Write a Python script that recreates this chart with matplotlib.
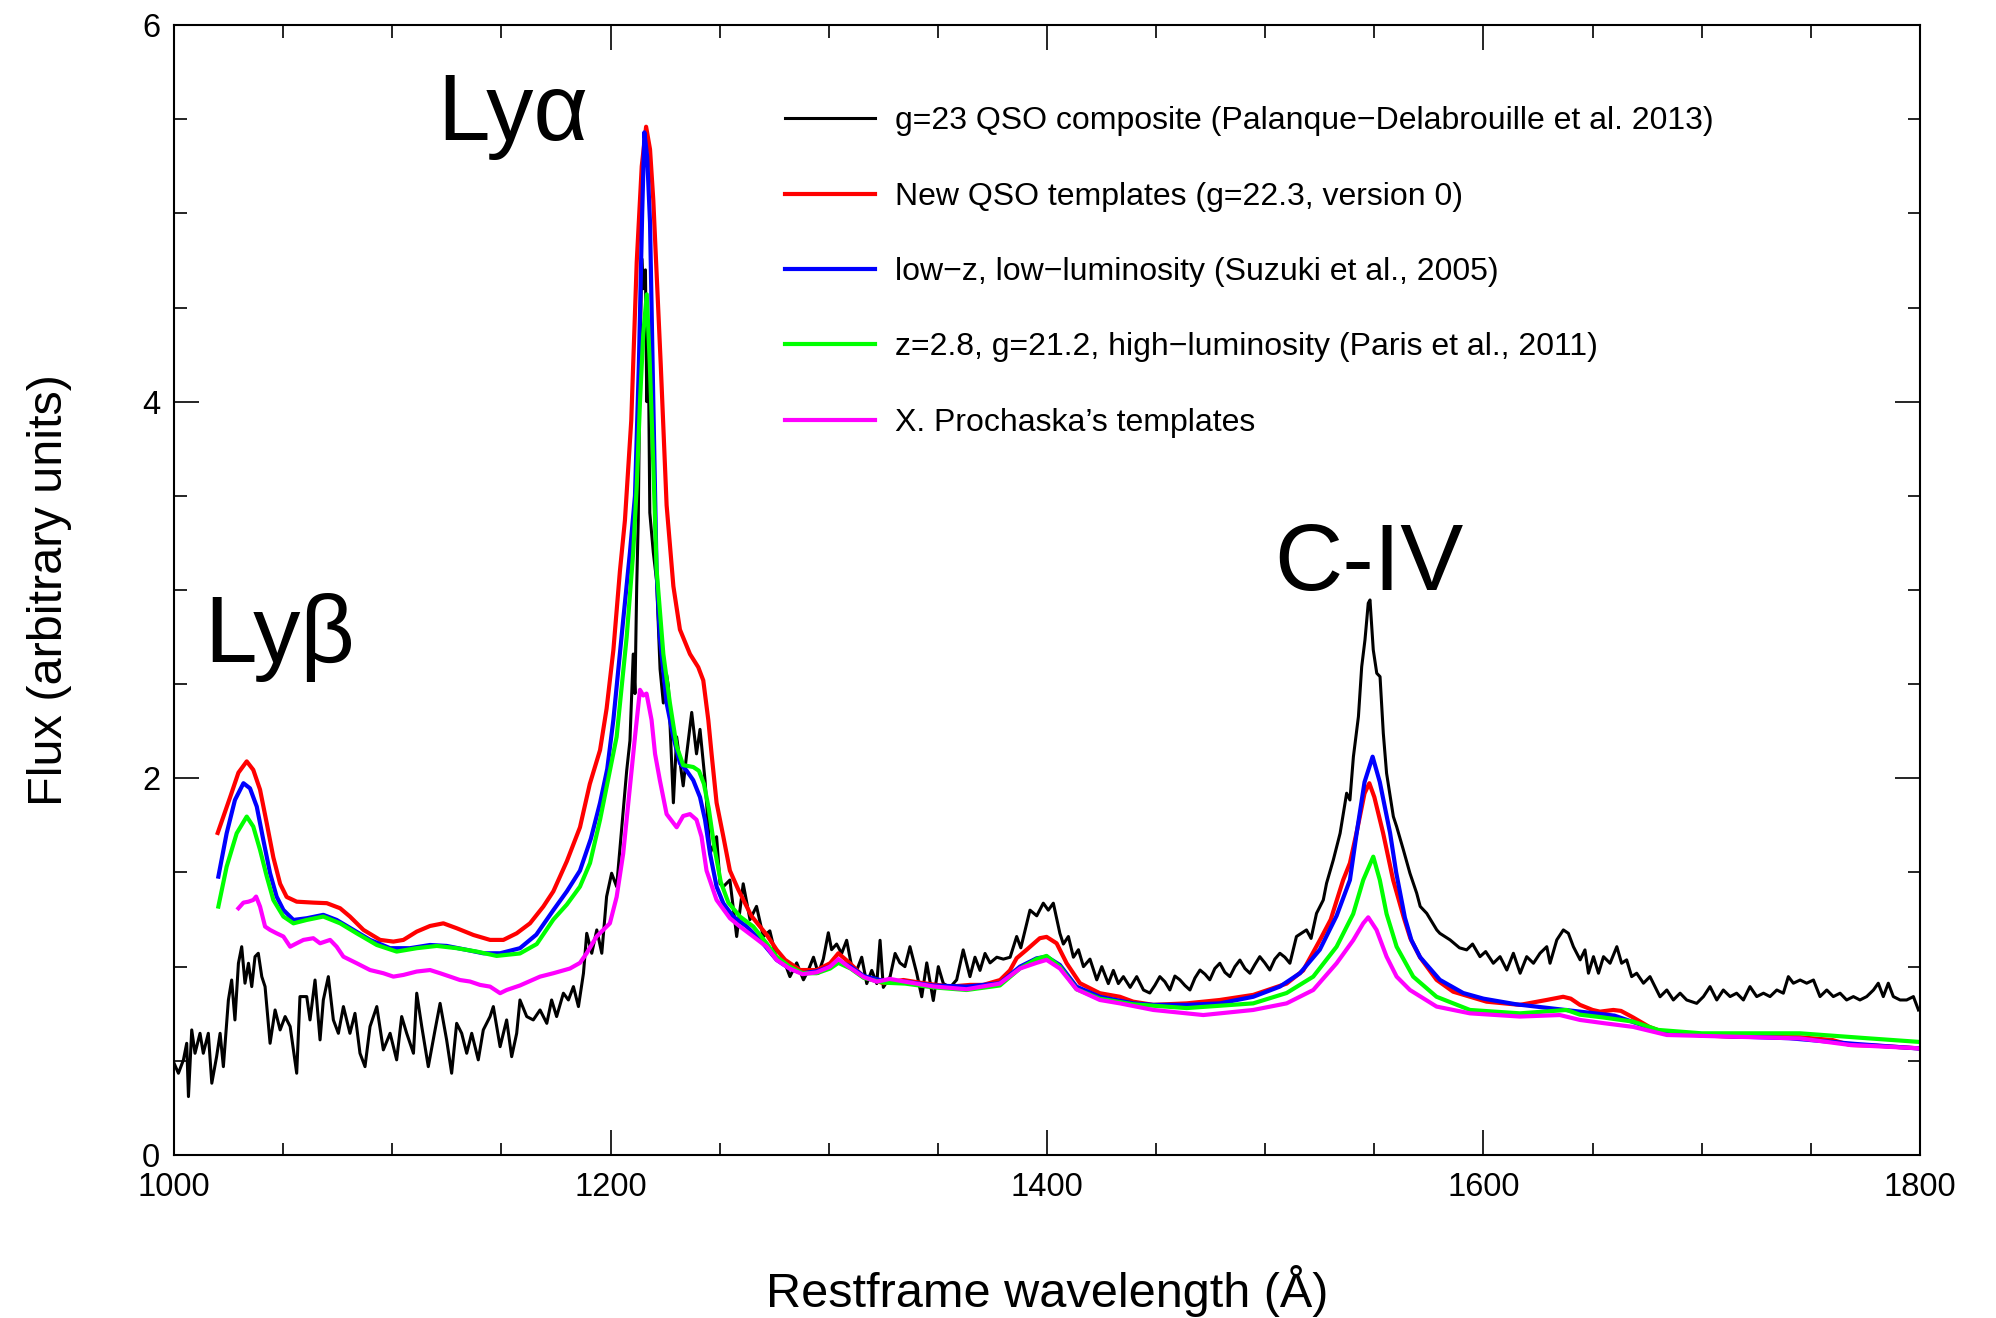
import matplotlib
matplotlib.use('Agg')
import matplotlib.pyplot as plt
from matplotlib.ticker import MultipleLocator

plt.rcParams['font.family'] = ['Liberation Sans', 'DejaVu Sans']

# --- data (restframe wavelength in A, flux) ---
black_wl = [1000.0, 1002.0, 1004.3, 1005.8, 1006.6, 1008.1, 1009.6, 1011.9, 1013.4, 1015.7,
            1017.3, 1019.5, 1021.1, 1022.6, 1024.9, 1026.4, 1027.9, 1029.5, 1031.0, 1032.5,
            1034.1, 1035.6, 1037.1, 1038.6, 1040.2, 1041.7, 1044.0, 1046.3, 1048.6, 1050.9,
            1053.2, 1056.2, 1057.7, 1060.8, 1062.3, 1064.6, 1066.9, 1068.4, 1070.7, 1073.0,
            1075.3, 1077.6, 1080.6, 1082.9, 1085.2, 1087.5, 1089.8, 1092.9, 1095.9, 1099.0,
            1102.0, 1104.3, 1106.6, 1109.7, 1111.2, 1113.5, 1116.5, 1119.6, 1121.9, 1124.9,
            1127.2, 1129.5, 1131.8, 1134.1, 1136.4, 1139.4, 1141.7, 1144.8, 1146.3, 1149.4,
            1152.4, 1154.7, 1157.0, 1158.5, 1161.6, 1164.6, 1167.7, 1170.8, 1173.0, 1175.3,
            1178.4, 1180.7, 1183.0, 1185.3, 1187.6, 1189.1, 1191.4, 1193.7, 1196.0, 1198.2,
            1200.5, 1202.8, 1204.4, 1205.9, 1207.4, 1208.9, 1210.4, 1211.2, 1212.0, 1212.7,
            1213.5, 1214.3, 1215.1, 1216.0, 1216.6, 1217.3, 1218.0, 1219.6, 1221.1, 1222.7,
            1224.2, 1225.7, 1226.5, 1228.8, 1230.3, 1233.3, 1234.9, 1237.2, 1239.4, 1241.0,
            1243.3, 1245.6, 1248.6, 1250.2, 1251.7, 1254.7, 1257.8, 1260.8, 1263.9, 1266.9,
            1270.0, 1273.0, 1276.1, 1279.2, 1282.2, 1285.3, 1288.4, 1290.6, 1293.0, 1295.2,
            1297.5, 1299.8, 1301.3, 1303.6, 1305.9, 1308.2, 1310.5, 1312.8, 1315.1, 1317.4,
            1319.7, 1322.0, 1323.5, 1325.0, 1328.1, 1330.4, 1332.6, 1334.9, 1337.2, 1340.3,
            1342.6, 1344.9, 1347.9, 1350.2, 1352.5, 1355.6, 1358.6, 1361.6, 1364.7, 1367.0,
            1369.3, 1371.6, 1373.9, 1377.0, 1380.0, 1383.1, 1386.1, 1388.0, 1390.7, 1392.2,
            1395.3, 1398.3, 1400.6, 1402.9, 1405.9, 1407.5, 1409.8, 1412.1, 1414.4, 1416.7,
            1419.7, 1422.8, 1425.1, 1428.1, 1430.4, 1432.7, 1435.0, 1438.1, 1441.1, 1444.2,
            1447.1, 1449.4, 1451.7, 1454.0, 1456.3, 1458.6, 1460.9, 1463.2, 1465.5, 1467.8,
            1470.1, 1472.4, 1474.6, 1476.9, 1479.2, 1481.5, 1483.8, 1486.1, 1488.4, 1490.7,
            1493.0, 1495.2, 1497.5, 1499.8, 1502.1, 1504.4, 1506.7, 1509.0, 1511.3, 1512.8,
            1514.3, 1518.9, 1521.0, 1523.5, 1526.6,
            1528.1, 1531.2, 1534.3, 1537.3, 1538.8, 1540.4, 1542.7, 1544.2, 1545.7, 1547.2,
            1548.0, 1549.5, 1551.1, 1552.6, 1554.1, 1555.6, 1558.7, 1560.2, 1563.3, 1566.3,
            1569.4, 1571.0, 1574.0, 1578.6, 1580.0, 1584.7, 1589.0, 1592.3, 1595.0, 1598.4,
            1601.0, 1604.5, 1607.6, 1610.7, 1613.7, 1616.8, 1619.8, 1622.9, 1625.9, 1629.0,
            1630.5, 1633.6, 1636.6, 1638.9, 1641.2, 1644.3, 1646.5, 1648.1, 1650.4, 1652.7,
            1655.0, 1658.0, 1661.1, 1663.3, 1665.6, 1667.9, 1670.2, 1673.3, 1676.3, 1678.6,
            1680.9, 1684.0, 1687.0, 1690.1, 1693.1, 1697.7, 1700.8, 1703.8, 1706.9, 1709.9,
            1713.0, 1716.0, 1719.1, 1722.1, 1725.2, 1728.3, 1731.3, 1734.4, 1737.4, 1739.7,
            1742.0, 1745.1, 1748.1, 1751.2, 1754.2, 1757.3, 1760.3, 1763.4, 1766.4, 1769.5,
            1772.5, 1775.6, 1778.7, 1780.9, 1783.2, 1785.5, 1787.8, 1790.9, 1793.9, 1797.0,
            1799.3]
black_flux = [0.487, 0.434, 0.505, 0.593, 0.310, 0.664, 0.540, 0.646, 0.540, 0.646,
              0.381, 0.522, 0.646, 0.469, 0.823, 0.929, 0.717, 1.018, 1.106, 0.912,
              1.018, 0.894, 1.053, 1.071, 0.947, 0.894, 0.593, 0.770, 0.664, 0.735,
              0.682, 0.434, 0.841, 0.841, 0.717, 0.929, 0.611, 0.823, 0.947, 0.717,
              0.646, 0.788, 0.646, 0.752, 0.540, 0.469, 0.682, 0.788, 0.558, 0.646,
              0.505, 0.735, 0.646, 0.540, 0.859, 0.682, 0.469, 0.664, 0.805, 0.611,
              0.434, 0.699, 0.646, 0.540, 0.646, 0.505, 0.664, 0.735, 0.788, 0.575,
              0.717, 0.522, 0.646, 0.823, 0.735, 0.717, 0.770, 0.699, 0.823, 0.735,
              0.859, 0.823, 0.894, 0.788, 0.965, 1.177, 1.071, 1.195, 1.071, 1.372,
              1.496, 1.425, 1.637, 1.832, 2.04, 2.20, 2.66, 2.45, 3.02, 3.37,
              4.20, 4.76, 4.60, 4.70, 4.00, 4.30, 3.41, 3.20, 3.05, 2.58,
              2.40, 2.55, 2.49, 1.87, 2.22, 1.96, 2.13, 2.35, 2.13, 2.26,
              1.99, 1.60, 1.69, 1.44, 1.425, 1.46, 1.16, 1.44, 1.25, 1.32,
              1.16, 1.19, 1.04, 1.04, 0.947, 1.02, 0.93, 0.98, 1.05, 0.965,
              1.04, 1.18, 1.09, 1.12, 1.07, 1.14, 1.00, 0.98, 1.05, 0.91,
              0.98, 0.91, 1.14, 0.89, 0.947, 1.07, 1.02, 1.00, 1.106, 0.965,
              0.84, 1.02, 0.82, 1.00, 0.91, 0.89, 0.93, 1.089, 0.947, 1.05,
              0.98, 1.07, 1.02, 1.05, 1.04, 1.05, 1.16, 1.10, 1.23, 1.30,
              1.27, 1.337, 1.30, 1.337, 1.177, 1.12, 1.16, 1.05, 1.09, 1.00,
              1.04, 0.93, 1.00, 0.91, 0.98, 0.91, 0.947, 0.89, 0.947, 0.876,
              0.86, 0.90, 0.947, 0.92, 0.876, 0.95, 0.93, 0.90, 0.876, 0.94,
              0.982, 0.96, 0.93, 0.99, 1.018, 0.97, 0.947, 1.00, 1.035, 0.99,
              0.965, 1.01, 1.053, 1.02, 0.982, 1.04, 1.071, 1.05, 1.018, 1.09,
              1.16, 1.195, 1.15, 1.283, 1.354,
              1.443, 1.567, 1.708, 1.921, 1.885, 2.115, 2.328, 2.593, 2.735, 2.93,
              2.947, 2.682, 2.558, 2.54, 2.239, 2.027, 1.797, 1.744, 1.62, 1.496,
              1.39, 1.32, 1.283, 1.195, 1.177, 1.142, 1.10, 1.089, 1.12, 1.053,
              1.08, 1.018, 1.053, 0.982, 1.071, 0.965, 1.053, 1.018, 1.071, 1.106,
              1.018, 1.142, 1.195, 1.177, 1.106, 1.036, 1.089, 0.965, 1.053, 0.965,
              1.053, 1.018, 1.106, 1.018, 1.036, 0.947, 0.965, 0.912, 0.947, 0.894,
              0.840, 0.876, 0.823, 0.859, 0.823, 0.805, 0.841, 0.894, 0.823, 0.876,
              0.841, 0.859, 0.823, 0.894, 0.841, 0.859, 0.841, 0.876, 0.859, 0.947,
              0.912, 0.929, 0.912, 0.929, 0.841, 0.876, 0.841, 0.859, 0.823, 0.841,
              0.823, 0.841, 0.876, 0.912, 0.841, 0.912, 0.841, 0.823, 0.823, 0.841,
              0.770]

red_wl = [1020.0, 1025.7, 1029.5, 1033.3, 1036.3, 1039.4, 1042.5, 1045.5, 1048.6, 1051.6,
          1056.2, 1063.8, 1070.0, 1076.1, 1080.6, 1086.8, 1094.4, 1100.5, 1105.1, 1111.2,
          1117.3, 1123.4, 1129.5, 1137.2, 1144.8, 1150.9, 1157.0, 1163.1, 1169.2, 1173.8,
          1180.0, 1186.0, 1190.5, 1195.2, 1198.2, 1201.3, 1204.3, 1206.6, 1209.5, 1212.0,
          1214.3, 1216.3, 1218.1, 1219.6, 1221.2, 1223.0, 1225.7, 1228.8, 1231.8, 1236.4,
          1240.2, 1242.5, 1244.8, 1246.3, 1248.6, 1251.7, 1254.7, 1258.5, 1264.5, 1271.5,
          1276.1, 1280.0, 1286.8, 1294.5, 1300.6, 1304.4, 1309.7, 1315.9, 1325.0, 1334.2,
          1343.3, 1355.6, 1364.7, 1370.8, 1378.5, 1383.0, 1386.1, 1390.6, 1396.7, 1399.8,
          1404.4, 1409.0, 1415.1, 1424.2, 1433.4, 1439.5, 1448.7, 1454.8, 1464.0, 1479.2,
          1494.5, 1509.8, 1517.4, 1525.0, 1530.0, 1535.7, 1538.8, 1542.0, 1545.5, 1547.7,
          1550.0, 1554.0, 1558.6, 1563.5, 1566.5, 1570.9, 1578.5, 1586.1, 1601.4, 1616.7,
          1628.9, 1636.5, 1640.0, 1644.2, 1650.0, 1653.4, 1659.5, 1663.0, 1668.6, 1676.0,
          1684.0, 1700.0, 1714.5, 1745.0, 1760.0, 1768.0, 1780.0, 1798.5, 1800.0]
red_flux = [1.71, 1.90, 2.03, 2.09, 2.045, 1.94, 1.76, 1.58, 1.44, 1.37,
            1.345, 1.34, 1.337, 1.31, 1.266, 1.195, 1.142, 1.133, 1.142, 1.186,
            1.216, 1.23, 1.204, 1.168, 1.142, 1.142, 1.177, 1.23, 1.319, 1.40,
            1.56, 1.74, 1.97, 2.15, 2.37, 2.68, 3.10, 3.37, 3.90, 4.74,
            5.25, 5.46, 5.34, 5.07, 4.66, 4.20, 3.45, 3.02, 2.79, 2.66,
            2.59, 2.52, 2.31, 2.13, 1.87, 1.69, 1.51, 1.41, 1.27, 1.17,
            1.09, 1.036, 0.982, 0.982, 1.018, 1.071, 1.018, 0.947, 0.912, 0.929,
            0.912, 0.894, 0.903, 0.903, 0.929, 0.98, 1.045, 1.089, 1.151, 1.158,
            1.124, 1.018, 0.912, 0.859, 0.84, 0.814, 0.797, 0.80, 0.805, 0.823,
            0.85, 0.91, 0.98, 1.14, 1.25, 1.46, 1.55, 1.72, 1.92, 1.974,
            1.90, 1.71, 1.46, 1.26, 1.15, 1.05, 0.93, 0.867, 0.814, 0.797,
            0.823, 0.84, 0.83, 0.797, 0.77, 0.761, 0.77, 0.765, 0.73, 0.68,
            0.646, 0.635, 0.628, 0.625, 0.61, 0.584, 0.58, 0.567, 0.565]

blue_wl = [1020.3, 1024.1, 1027.9, 1031.8, 1034.8, 1037.9, 1040.9, 1044.0, 1047.0, 1050.1,
           1054.7, 1060.8, 1068.4, 1074.5, 1082.2, 1089.8, 1099.0, 1108.1, 1117.3, 1124.9,
           1134.1, 1141.7, 1149.4, 1158.5, 1166.0, 1173.8, 1180.0, 1186.0, 1191.0, 1195.2,
           1198.5, 1201.3, 1205.8, 1208.9, 1211.2, 1213.0, 1214.5, 1215.5, 1216.8, 1218.1,
           1219.6, 1221.1, 1222.6, 1225.7, 1228.8, 1231.8, 1234.9, 1237.9, 1241.0, 1243.3,
           1245.6, 1248.6, 1251.7, 1256.2, 1262.4, 1268.5, 1276.1, 1282.0, 1288.0, 1294.5,
           1300.6, 1304.4, 1310.0, 1316.0, 1325.0, 1335.0, 1347.9, 1363.1, 1378.4, 1387.6,
           1395.2, 1399.8, 1405.9, 1413.5, 1424.2, 1439.5, 1448.7, 1464.0, 1479.2, 1494.5,
           1506.7, 1515.9, 1525.0, 1532.7, 1538.8, 1541.9, 1545.5, 1549.2, 1552.5, 1557.2,
           1560.0, 1564.0, 1567.0, 1571.0, 1580.0, 1590.7, 1600.0, 1615.0, 1630.0, 1645.0,
           1660.0, 1680.0, 1700.0, 1740.0, 1770.0, 1800.0]
blue_flux = [1.478, 1.708, 1.885, 1.974, 1.947, 1.85, 1.673, 1.496, 1.372, 1.301,
             1.248, 1.257, 1.275, 1.248, 1.195, 1.142, 1.098, 1.098, 1.115, 1.11,
             1.089, 1.071, 1.071, 1.098, 1.17, 1.30, 1.40, 1.51, 1.68, 1.87,
             2.05, 2.31, 2.84, 3.20, 3.50, 4.20, 5.00, 5.43, 5.30, 4.95,
             4.00, 3.10, 2.75, 2.40, 2.22, 2.08, 2.04, 1.99, 1.90, 1.78,
             1.60, 1.425, 1.336, 1.266, 1.213, 1.142, 1.036, 0.99, 0.965, 0.975,
             1.00, 1.03, 1.00, 0.95, 0.925, 0.92, 0.90, 0.894, 0.912, 1.00,
             1.044, 1.053, 1.009, 0.894, 0.84, 0.805, 0.797, 0.797, 0.805, 0.84,
             0.894, 0.965, 1.09, 1.27, 1.46, 1.71, 1.98, 2.115, 1.98, 1.71,
             1.50, 1.26, 1.14, 1.05, 0.93, 0.86, 0.83, 0.80, 0.78, 0.76,
             0.74, 0.66, 0.635, 0.62, 0.59, 0.565]

green_wl = [1020.3, 1024.1, 1028.7, 1033.3, 1036.3, 1039.4, 1042.5, 1045.5, 1050.1, 1054.7,
            1060.8, 1068.4, 1076.1, 1083.7, 1092.9, 1102.0, 1111.2, 1120.4, 1129.5, 1138.7,
            1147.8, 1158.5, 1166.2, 1173.8, 1180.0, 1186.0, 1190.6, 1195.2, 1199.0, 1202.8,
            1207.4, 1210.4, 1212.0, 1213.5, 1215.0, 1216.6, 1218.0, 1219.5, 1221.1, 1224.2,
            1227.2, 1230.3, 1233.3, 1237.9, 1240.5, 1242.8, 1245.0, 1247.5, 1250.5, 1254.0,
            1259.3, 1265.4, 1271.5, 1276.1, 1282.0, 1288.0, 1294.5, 1300.6, 1304.4, 1310.0,
            1316.0, 1325.0, 1335.0, 1347.9, 1363.1, 1378.4, 1387.6, 1395.2, 1399.8, 1405.9,
            1413.5, 1424.2, 1439.5, 1464.0, 1494.5, 1509.8, 1522.0, 1532.7, 1540.3, 1544.9,
            1549.5, 1552.5, 1555.6, 1560.2, 1567.8, 1578.5, 1593.8, 1616.7, 1638.1, 1644.2,
            1655.0, 1668.6, 1680.0, 1700.0, 1745.0, 1775.6, 1800.0]
green_flux = [1.319, 1.531, 1.708, 1.797, 1.744, 1.62, 1.478, 1.354, 1.266, 1.23,
              1.248, 1.266, 1.23, 1.177, 1.115, 1.08, 1.098, 1.11, 1.098, 1.08,
              1.057, 1.07, 1.12, 1.25, 1.33, 1.425, 1.55, 1.78, 2.00, 2.22,
              2.75, 3.20, 3.55, 4.00, 4.36, 4.57, 4.20, 3.70, 3.11, 2.66,
              2.40, 2.17, 2.07, 2.06, 2.04, 1.97, 1.84, 1.64, 1.45, 1.34,
              1.266, 1.213, 1.124, 1.053, 1.00, 0.965, 0.965, 0.99, 1.02, 0.99,
              0.94, 0.915, 0.91, 0.89, 0.876, 0.90, 0.99, 1.04, 1.057, 1.00,
              0.88, 0.83, 0.80, 0.78, 0.805, 0.86, 0.947, 1.106, 1.28, 1.46,
              1.584, 1.46, 1.28, 1.106, 0.947, 0.84, 0.77, 0.752, 0.77, 0.745,
              0.73, 0.708, 0.664, 0.646, 0.646, 0.62, 0.60]

magenta_wl = [1029.5, 1031.8, 1034.1, 1036.3, 1037.6, 1039.4, 1041.7, 1044.0, 1047.0, 1050.1,
              1053.2, 1056.2, 1059.3, 1063.8, 1066.9, 1071.5, 1074.5, 1077.6, 1083.7, 1089.8,
              1095.9, 1100.5, 1105.1, 1111.2, 1117.3, 1121.9, 1126.5, 1131.0, 1135.6, 1140.2,
              1144.8, 1149.4, 1152.4, 1158.5, 1167.7, 1173.8, 1181.4, 1186.0, 1189.0, 1193.6,
              1199.7, 1202.8, 1205.8, 1208.9, 1211.2, 1213.5, 1215.0, 1216.5, 1218.8, 1220.4,
              1222.6, 1225.7, 1230.3, 1233.3, 1236.4, 1239.4, 1241.7, 1244.0, 1248.6, 1254.7,
              1259.3, 1265.4, 1271.5, 1276.1, 1282.0, 1288.0, 1294.5, 1300.6, 1304.4, 1309.0,
              1316.0, 1322.0, 1328.0, 1335.0, 1347.9, 1363.1, 1378.4, 1387.6, 1395.2, 1399.8,
              1405.9, 1413.5, 1424.2, 1433.4, 1448.7, 1471.6, 1494.5, 1509.8, 1522.0, 1532.7,
              1540.3, 1544.9, 1547.2, 1551.0, 1555.6, 1560.2, 1566.3, 1578.5, 1593.8, 1616.7,
              1635.0, 1644.2, 1655.0, 1668.6, 1684.0, 1714.5, 1745.0, 1768.0, 1798.5, 1800.0]
magenta_flux = [1.31, 1.34, 1.345, 1.354, 1.372, 1.319, 1.213, 1.195, 1.177, 1.16,
                1.106, 1.124, 1.142, 1.151, 1.124, 1.142, 1.106, 1.053, 1.018, 0.982,
                0.965, 0.947, 0.956, 0.974, 0.982, 0.965, 0.947, 0.929, 0.921, 0.903,
                0.894, 0.859, 0.876, 0.90, 0.947, 0.965, 0.99, 1.02, 1.07, 1.16,
                1.23, 1.37, 1.60, 1.956, 2.22, 2.47, 2.44, 2.45, 2.31, 2.13,
                1.99, 1.81, 1.74, 1.80, 1.81, 1.78, 1.69, 1.51, 1.354, 1.257,
                1.213, 1.16, 1.106, 1.036, 0.99, 0.96, 0.97, 1.00, 1.04, 1.00,
                0.945, 0.92, 0.935, 0.92, 0.895, 0.88, 0.91, 0.99, 1.02, 1.036,
                0.99, 0.88, 0.823, 0.805, 0.77, 0.743, 0.77, 0.805, 0.876, 1.018,
                1.14, 1.23, 1.262, 1.195, 1.053, 0.947, 0.876, 0.788, 0.752, 0.735,
                0.743, 0.717, 0.70, 0.68, 0.637, 0.628, 0.619, 0.584, 0.567, 0.565]

labels = ['g=23 QSO composite (Palanque\u2212Delabrouille et al. 2013)',
          'New QSO templates (g=22.3, version 0)',
          'low\u2212z, low\u2212luminosity (Suzuki et al., 2005)',
          'z=2.8, g=21.2, high\u2212luminosity (Paris et al., 2011)',
          'X. Prochaska\u2019s templates']

# --- plot ---
fig = plt.figure(figsize=(19.96, 13.18), dpi=100)
ax = fig.add_axes([0.0872, 0.1237, 0.8747, 0.8573])

ax.plot(black_wl, black_flux, color='black', lw=2.2, label=labels[0])
ax.plot(red_wl, red_flux, color='#ff0000', lw=3.0, label=labels[1])
ax.plot(blue_wl, blue_flux, color='#0000ff', lw=3.0, label=labels[2])
ax.plot(green_wl, green_flux, color='#00ff00', lw=3.0, label=labels[3])
ax.plot(magenta_wl, magenta_flux, color='#ff00ff', lw=3.0, label=labels[4])

ax.set_xlim(1000, 1800)
ax.set_ylim(0, 6)
ax.xaxis.set_major_locator(MultipleLocator(200))
ax.xaxis.set_minor_locator(MultipleLocator(50))
ax.yaxis.set_major_locator(MultipleLocator(2))
ax.yaxis.set_minor_locator(MultipleLocator(0.5))
ax.tick_params(which='both', direction='in', top=True, right=True, width=1.2, labelsize=23.5)
ax.tick_params(which='major', length=18)
ax.tick_params(which='minor', length=9)
ax.tick_params(axis='x', pad=12)
ax.tick_params(axis='y', pad=10)
for sp in ax.spines.values():
    sp.set_linewidth(1.5)

ax.set_xlabel('Restframe wavelength (\u00c5)', fontsize=35, labelpad=45)
ax.set_ylabel('Flux (arbitrary units)', fontsize=35, labelpad=50)

# line names
ax.text(1155.3, 5.39, 'Ly\u03b1', fontsize=68, ha='center', va='baseline')
ax.text(1048.6, 2.62, 'Ly\u03b2', fontsize=68, ha='center', va='baseline')
ax.text(1547.5, 3.0, 'C-IV', fontsize=68, ha='center', va='baseline')

ax.legend(loc='upper left', bbox_to_anchor=(0.35, 0.928), frameon=False,
          fontsize=23, handlelength=2.82, handletextpad=0.62, labelspacing=1.42,
          borderpad=0, borderaxespad=0)

fig.savefig('out.png', dpi=100)
